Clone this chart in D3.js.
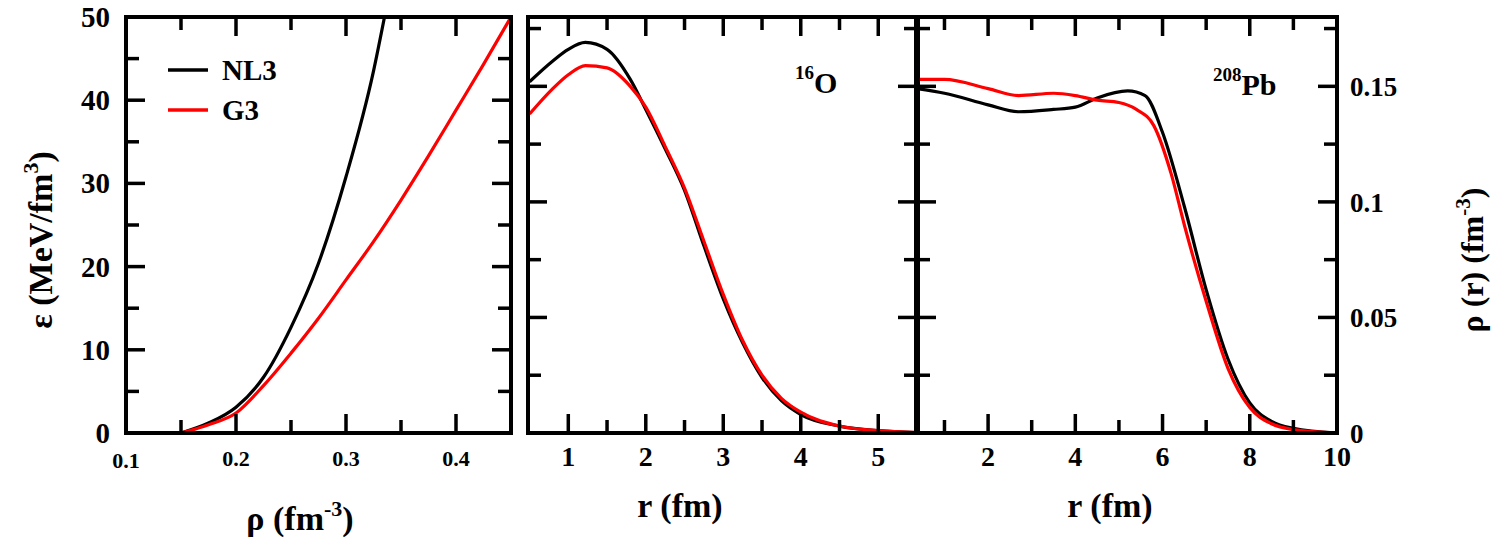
<!DOCTYPE html><html><head><meta charset="utf-8"><script src="https://cdn.jsdelivr.net/npm/d3@7"></script>
<style>body{margin:0;background:#fff}text{font-family:"Liberation Serif","Times New Roman",serif;font-weight:bold}</style></head><body><svg id="c" width="1495" height="548"></svg><script>
// Panel 1: energy density vs density
const eosRho=[0.15,0.175,0.2,0.225,0.25,0.275,0.3,0.325,0.335,0.35,0.375,0.4,0.425,0.45];
const eosNL3=[0,1.2,3.1,6.7,12.7,20.4,30.8,43.5,50,null,null,null,null,null];
const eosG3=[0,1.0,2.4,5.7,9.6,13.8,18.4,23.0,null,28.0,33.3,38.8,44.3,50];
// Panel 2: 16O density
const oR=[0.5,0.8,1.0,1.22,1.5,1.8,2.0,2.25,2.5,2.75,3.0,3.25,3.5,3.75,4.0,4.5,5.0,5.5];
const oNL3=[0.152,0.161,0.166,0.169,0.166,0.153,0.140,0.123,0.105,0.081,0.058,0.039,0.024,0.014,0.008,0.003,0.001,0.0002];
const oG3=[0.138,0.149,0.155,0.159,0.158,0.150,0.141,0.124,0.106,0.083,0.060,0.040,0.025,0.015,0.009,0.003,0.001,0.0002];
// Panel 3: 208Pb density
const pbR=[0.37,1,2,2.7,3.5,4,4.5,5.2,5.6,6,6.5,7,7.5,8,8.5,9,10];
const pbNL3=[0.149,0.147,0.142,0.139,0.140,0.141,0.145,0.148,0.146,0.130,0.098,0.062,0.032,0.013,0.005,0.002,0];
const pbG3R=[0.37,1,2,2.7,3.5,4,4.5,5,5.4,5.8,6.2,6.5,7,7.5,8,8.5,9,10];
const pbG3=[0.153,0.153,0.149,0.146,0.147,0.146,0.144,0.143,0.140,0.133,0.112,0.090,0.057,0.028,0.011,0.004,0.0015,0];
const legendNames=["NL3","G3"], colors=["#000","#ff0000"];

const svg=d3.select("#c"), yTop=17, bot=433;
const panels=[
 {x0:126,x1:511,dom:[0.1,0.45],ydom:[0,50],xt:[0.1,0.2,0.3,0.4],xm:d3.range(0.15,0.45,0.1),yt:[0,10,20,30,40,50],ym:d3.range(5,50,10),
  series:[[eosRho,eosNL3],[eosRho,eosG3]],xf:d3.format(".1f"),left:true},
 {x0:528,x1:917,dom:[0.48,5.5],ydom:[0,0.18],xt:[1,2,3,4,5],xm:[1.5,2.5,3.5,4.5],yt:[0,0.05,0.1,0.15],ym:[0.025,0.075,0.125,0.175],
  series:[[oR,oNL3],[oR,oG3]],xf:d3.format("d")},
 {x0:917,x1:1337,dom:[0.37,10],ydom:[0,0.18],xt:[2,4,6,8,10],xm:[1,3,5,7,9],yt:[0,0.05,0.1,0.15],ym:[0.025,0.075,0.125,0.175],
  series:[[pbR,pbNL3],[pbG3R,pbG3]],xf:d3.format("d"),right:true}
];
panels.forEach(p=>{
 const x=d3.scaleLinear().domain(p.dom).range([p.x0,p.x1]);
 const y=d3.scaleLinear().domain(p.ydom).range([bot,yTop]);
 const g=svg.append("g");
 const cp="cp"+p.x0;
 svg.append("clipPath").attr("id",cp).append("rect").attr("x",p.x0).attr("y",yTop).attr("width",p.x1-p.x0).attr("height",bot-yTop);
 p.series.forEach((s,i)=>{
  const pts=s[0].map((v,j)=>[v,s[1][j]]).filter(d=>d[1]!=null);
  g.append("path").attr("clip-path",`url(#${cp})`).attr("d",d3.line().x(d=>x(d[0])).y(d=>y(d[1])).curve(d3.curveMonotoneX)(pts))
   .attr("fill","none").attr("stroke",colors[i]).attr("stroke-width",3.2);
 });
 const tk=(vals,len)=>{vals.forEach(v=>{
   [[bot,-len],[yTop,len]].forEach(([yy,d])=>g.append("line").attr("x1",x(v)).attr("x2",x(v)).attr("y1",yy).attr("y2",yy+d).attr("stroke","#000").attr("stroke-width",3.5));
 });};
 tk(p.xt.filter(v=>v>p.dom[0]&&v<p.dom[1]),19); tk(p.xm,13);
 const tky=(vals,len)=>{vals.forEach(v=>{
   [[p.x0,len],[p.x1,-len]].forEach(([xx,d])=>g.append("line").attr("y1",y(v)).attr("y2",y(v)).attr("x1",xx).attr("x2",xx+d).attr("stroke","#000").attr("stroke-width",3.5));
 });};
 tky(p.yt.filter(v=>v>p.ydom[0]&&v<p.ydom[1]),19); tky(p.ym,13);
 g.append("rect").attr("x",p.x0).attr("y",yTop).attr("width",p.x1-p.x0).attr("height",bot-yTop).attr("fill","none").attr("stroke","#000").attr("stroke-width",4);
 p.xt.forEach(v=>g.append("text").attr("x",x(v)).attr("y",p.left&&v===0.1?468:466).attr("text-anchor","middle").attr("font-size",p.left?22:28).text(p.xf(v)));
 if(p.left){p.yt.forEach(v=>g.append("text").attr("x",110).attr("y",y(v)+10).attr("text-anchor","end").attr("font-size",29).text(v));}
 if(p.right){p.yt.forEach(v=>g.append("text").attr("x",1350).attr("y",y(v)+10).attr("font-size",27).text(v));}
});
svg.append("line").attr("x1",917).attr("x2",917).attr("y1",yTop).attr("y2",bot).attr("stroke","#000").attr("stroke-width",6);
// legend
legendNames.forEach((n,i)=>{
 svg.append("line").attr("x1",168).attr("x2",208).attr("y1",70+40*i).attr("y2",70+40*i).attr("stroke",colors[i]).attr("stroke-width",3.5);
 svg.append("text").attr("x",222).attr("y",80+40*i).attr("font-size",29).text(n);
});
svg.append("text").attr("x",795).attr("y",93).attr("font-size",30).html('<tspan font-size="19" dy="-14">16</tspan><tspan dy="14">O</tspan>');
svg.append("text").attr("x",1213).attr("y",95).attr("font-size",30).html('<tspan font-size="19" dy="-14">208</tspan><tspan dy="14">Pb</tspan>');
// axis titles
svg.append("text").attr("x",300).attr("y",530).attr("text-anchor","middle").attr("font-size",34).html('ρ  (fm<tspan font-size="22" dy="-14">-3</tspan><tspan dy="14">)</tspan>');
svg.append("text").attr("x",680).attr("y",517).attr("text-anchor","middle").attr("font-size",34).text("r (fm)");
svg.append("text").attr("x",1110).attr("y",517).attr("text-anchor","middle").attr("font-size",34).text("r (fm)");
svg.append("text").attr("transform","translate(52,240) rotate(-90)").attr("text-anchor","middle").attr("font-size",34).html('ε  (MeV/fm<tspan font-size="22" dy="-14">3</tspan><tspan dy="14">)</tspan>');
svg.append("text").attr("transform","translate(1483,260) rotate(-90)").attr("text-anchor","middle").attr("font-size",32).html('ρ (r) (fm<tspan font-size="21" dy="-13">-3</tspan><tspan dy="13">)</tspan>');
</script></body></html>
